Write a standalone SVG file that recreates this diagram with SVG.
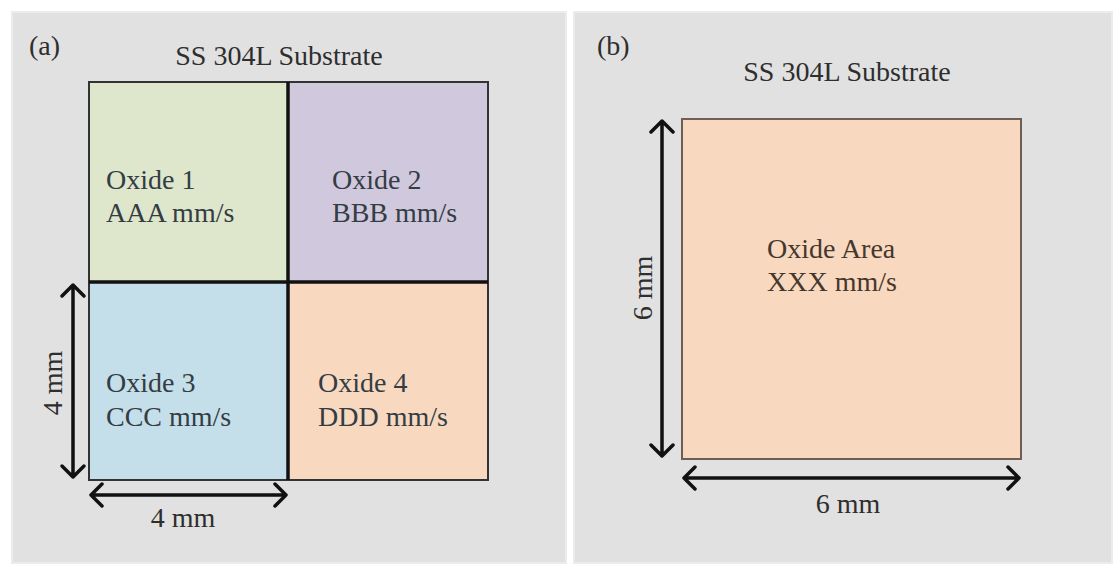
<svg xmlns="http://www.w3.org/2000/svg" width="1117" height="565" viewBox="0 0 1117 565">
  <defs>
    <style>
      .panel { fill: #e1e1e1; stroke: #ececec; stroke-width: 2; }
      .lbl { font-family: "Liberation Serif", "Times New Roman", serif; font-size: 28px; fill: #2e2e2e; }
      .cell-text { font-family: "Liberation Serif", "Times New Roman", serif; font-size: 28px; fill: #343c44; }
      .dim { fill: none; stroke: #111111; stroke-width: 3.5; stroke-linecap: round; stroke-linejoin: round; }
      .cell { stroke: #333333; stroke-width: 2; }
      .divider { stroke: #111111; stroke-width: 3.5; fill: none; }
    </style>
  </defs>

  <rect width="1117" height="565" fill="#ffffff"/>

  <!-- Panel (a): four oxide regions -->
  <g id="panel-a">
    <rect class="panel" x="12" y="12" width="554" height="551"/>
    <text class="lbl" x="29" y="55">(a)</text>
    <text class="lbl" x="279" y="65" text-anchor="middle">SS 304L Substrate</text>
  </g>

  <g id="oxide-1">
    <rect class="cell" x="89" y="82" width="199" height="200" fill="#dee6cb"/>
    <text class="cell-text" x="106" y="189">Oxide 1</text>
    <text class="cell-text" x="106" y="222">AAA mm/s</text>
  </g>
  <g id="oxide-2">
    <rect class="cell" x="288" y="82" width="200" height="200" fill="#d0c8dd"/>
    <text class="cell-text" x="332" y="189">Oxide 2</text>
    <text class="cell-text" x="332" y="222">BBB mm/s</text>
  </g>
  <g id="oxide-3">
    <rect class="cell" x="89" y="282" width="199" height="198" fill="#c4dfe9"/>
    <text class="cell-text" x="106" y="392">Oxide 3</text>
    <text class="cell-text" x="106" y="426">CCC mm/s</text>
  </g>
  <g id="oxide-4">
    <rect class="cell" x="288" y="282" width="200" height="198" fill="#f8d8be"/>
    <text class="cell-text" x="318" y="392">Oxide 4</text>
    <text class="cell-text" x="318" y="426">DDD mm/s</text>
  </g>

  <!-- Panel (b): single oxide area -->
  <g id="panel-b">
    <rect class="panel" x="574" y="12" width="538" height="551"/>
    <text class="lbl" x="597" y="55">(b)</text>
    <text class="lbl" x="847" y="81" text-anchor="middle">SS 304L Substrate</text>
  </g>
  <g id="oxide-area">
    <rect x="682" y="119" width="339" height="340" fill="#f8d8be" stroke="#6e5e55" stroke-width="2"/>
    <text class="cell-text" x="767" y="258" style="fill:#45372e">Oxide Area</text>
    <text class="cell-text" x="767" y="291" style="fill:#45372e">XXX mm/s</text>
  </g>

  <!-- Dimension arrows and their labels -->
  <g id="connectors">
    <!-- (a) divider lines between regions -->
    <line class="divider" x1="288" y1="82" x2="288" y2="480"/>
    <line class="divider" x1="89" y1="282" x2="488" y2="282"/>

    <!-- (a) vertical 4 mm -->
    <path class="dim" d="M73 285 V477 M62 296 L73 285 L84 296 M62 466 L73 477 L84 466"/>
    <!-- (a) horizontal 4 mm -->
    <path class="dim" d="M91 495 H286 M102 484 L91 495 L102 506 M275 484 L286 495 L275 506"/>

    <!-- (b) vertical 6 mm -->
    <path class="dim" d="M662 121 V456 M651 132 L662 121 L673 132 M651 445 L662 456 L673 445"/>
    <!-- (b) horizontal 6 mm -->
    <path class="dim" d="M684 478 H1019 M695 467 L684 478 L695 489 M1008 467 L1019 478 L1008 489"/>
  </g>

  <g id="dimension-labels">
    <text class="lbl" x="183" y="527" text-anchor="middle">4 mm</text>
    <text class="lbl" transform="translate(62 383) rotate(-90)" text-anchor="middle">4 mm</text>
    <text class="lbl" x="848" y="513" text-anchor="middle">6 mm</text>
    <text class="lbl" transform="translate(652 288) rotate(-90)" text-anchor="middle">6 mm</text>
  </g>
</svg>
